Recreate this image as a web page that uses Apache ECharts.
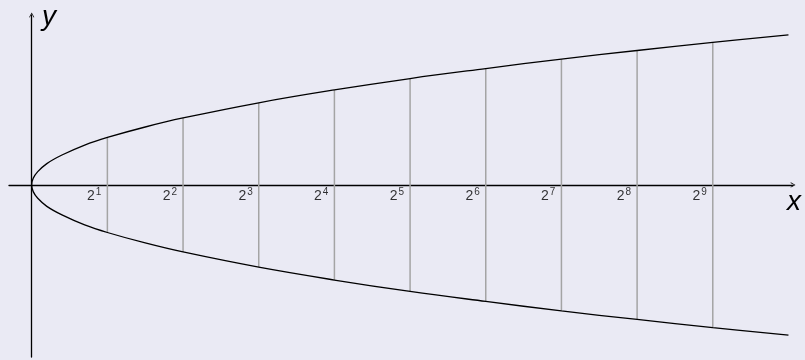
<!DOCTYPE html>
<html>
<head>
<meta charset="utf-8">
<script src="https://cdn.jsdelivr.net/npm/echarts@6/dist/echarts.min.js"></script>
<style>
  html, body { margin: 0; padding: 0; background: #eaeaf4; }
  #main { width: 805px; height: 360px; }
</style>
</head>
<body>
<div id="main"></div>
<script>
// parabola points (upper and lower branch)
var curveX  = [0, 0.02, 0.08, 0.2, 0.4, 0.7, 1, 1.5, 2, 3, 4, 5, 6, 7, 8, 9, 10];
var upperY  = [0, 0.14, 0.28, 0.45, 0.63, 0.84, 1, 1.22, 1.41, 1.73, 2, 2.24, 2.45, 2.65, 2.83, 3, 3.16];
var lowerY  = [0, -0.14, -0.28, -0.45, -0.63, -0.84, -1, -1.22, -1.41, -1.73, -2, -2.24, -2.45, -2.65, -2.83, -3, -3.16];

// grey verticals and their labels
var barX      = [1, 2, 3, 4, 5, 6, 7, 8, 9];
var barTop    = [1, 1.41, 1.73, 2, 2.24, 2.45, 2.65, 2.83, 3];
var barBottom = [-1, -1.41, -1.73, -2, -2.24, -2.45, -2.65, -2.83, -3];
var barExp    = ['1', '2', '3', '4', '5', '6', '7', '8', '9'];

var curveData = [];
for (var i = curveX.length - 1; i > 0; i--) {
  curveData.push([curveX[i], lowerY[i]]);
}
for (var j = 0; j < curveX.length; j++) {
  curveData.push([curveX[j], upperY[j]]);
}

var barData = [];
var labelData = [];
for (var k = 0; k < barX.length; k++) {
  barData.push([barX[k], barTop[k], barBottom[k]]);
  labelData.push({ value: [barX[k], 0], exp: barExp[k] });
}

var openArrow = 'path://M0,9 L5,0 L10,9 L8.8,9.6 L5,2.6 L1.2,9.6 Z';

var myChart = echarts.init(document.getElementById('main'));
var option = {
  backgroundColor: '#eaeaf4',
  animation: false,
  grid: { left: 9, right: 12, top: 15, bottom: 3 },
  xAxis: {
    type: 'value',
    min: -0.3,
    max: 10.06,
    splitLine: { show: false },
    axisTick: { show: false },
    axisLabel: { show: false },
    axisLine: {
      onZero: true,
      symbol: ['none', openArrow],
      symbolSize: [8, 5],
      lineStyle: { color: '#000', width: 1.3 }
    }
  },
  yAxis: {
    type: 'value',
    min: -3.62,
    max: 3.577,
    splitLine: { show: false },
    axisTick: { show: false },
    axisLabel: { show: false },
    axisLine: {
      onZero: true,
      symbol: ['none', openArrow],
      symbolSize: [8, 5],
      lineStyle: { color: '#000', width: 1.3 }
    }
  },
  graphic: [
    { type: 'text', left: 42, top: 3, style: { text: 'y', font: 'italic 28px "Liberation Sans"', fill: '#000' } },
    { type: 'text', left: 787, top: 188, style: { text: 'x', font: 'italic 28px "Liberation Sans"', fill: '#000' } }
  ],
  series: [
    {
      type: 'custom',
      silent: true,
      data: barData,
      renderItem: function (params, api) {
        var p1 = api.coord([api.value(0), api.value(1)]);
        var p2 = api.coord([api.value(0), api.value(2)]);
        return {
          type: 'line',
          shape: { x1: p1[0], y1: p1[1], x2: p2[0], y2: p2[1] },
          style: { stroke: '#a4a4a4', lineWidth: 1.5 }
        };
      },
      z: 1
    },
    {
      type: 'line',
      data: curveData,
      smooth: 0.4,
      showSymbol: false,
      lineStyle: { color: '#000', width: 1.3 },
      silent: true,
      z: 3
    },
    {
      type: 'scatter',
      data: labelData,
      symbolSize: 0,
      silent: true,
      label: {
        show: true,
        position: [-6, 2],
        align: 'right',
        verticalAlign: 'top',
        formatter: function (p) {
          return '{b|2}{s|' + p.data.exp + '}';
        },
        rich: {
          b: { fontSize: 14, fontFamily: 'Liberation Sans', color: '#000', lineHeight: 16, verticalAlign: 'bottom' },
          s: { fontSize: 10, fontFamily: 'Liberation Sans', color: '#000', lineHeight: 16, verticalAlign: 'top', padding: [0, 0, 0, 1] }
        }
      },
      z: 4
    }
  ]
};
myChart.setOption(option);
</script>
</body>
</html>
